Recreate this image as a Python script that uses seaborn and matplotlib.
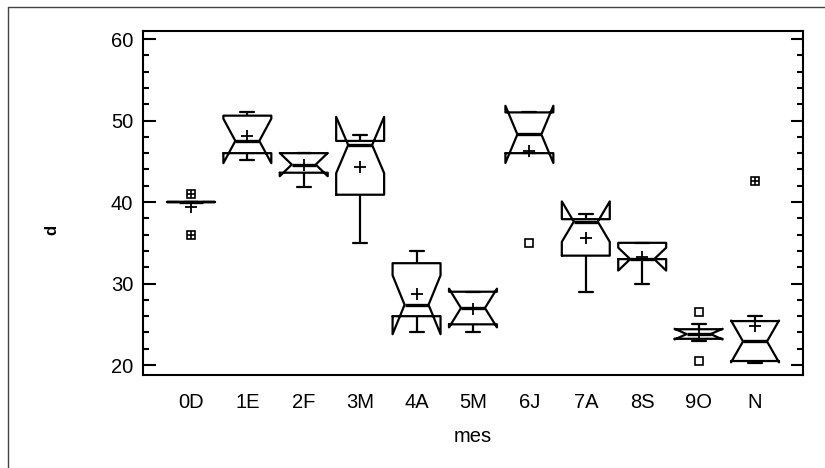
import numpy as np
import pandas as pd
import matplotlib
matplotlib.use("Agg")
import matplotlib.pyplot as plt
import seaborn as sns
from matplotlib.lines import Line2D
from matplotlib.ticker import MultipleLocator

# --- DATA ---
months = ["0D", "1E", "2F", "3M", "4A", "5M", "6J", "7A", "8S", "9O", "N"]

d_0D = [36.0, 40.0, 40.0, 40.0, 41.0]
d_1E = [45.1, 45.8, 46.2, 47.5, 50.2, 51.0, 51.1]
d_2F = [41.9, 43.4, 43.8, 44.6, 46.0, 46.0, 46.0]
d_3M = [35.0, 38.5, 40.9, 46.3, 47.0, 47.3, 47.5, 48.0, 48.2]
d_4A = [24.0, 26.0, 26.0, 27.0, 27.8, 32.5, 32.5, 34.0]
d_5M = [24.0, 24.6, 25.4, 27.0, 29.0, 29.0, 29.0]
d_6J = [35.0, 46.0, 48.3, 51.0, 51.0]
d_7A = [29.0, 33.2, 33.5, 37.4, 37.8, 37.9, 37.9, 38.5]
d_8S = [30.0, 33.0, 33.0, 35.0, 35.0]
d_9O = [20.5, 23.0, 23.3, 23.6, 24.0, 24.2, 25.0, 26.5]
d_N = [20.2, 20.3, 20.5, 21.5, 22.9, 23.8, 25.4, 26.0, 42.6]

values = [d_0D, d_1E, d_2F, d_3M, d_4A, d_5M, d_6J, d_7A, d_8S, d_9O, d_N]

df = pd.DataFrame({
    "mes": np.repeat(months, [len(v) for v in values]),
    "d": np.concatenate(values),
})

# --- STYLE ---
sns.set_style("ticks", {"axes.edgecolor": "black", "text.color": "black",
                        "xtick.color": "black", "ytick.color": "black",
                        "axes.labelcolor": "black"})
plt.rcParams["font.family"] = ["Liberation Sans", "DejaVu Sans"]

fig, ax = plt.subplots(figsize=(8.25, 4.68), dpi=100)
fig.subplots_adjust(left=0.1733, right=0.9733, top=0.934, bottom=0.199)

# notched box plot with means (+) and outside points (open squares)
sns.boxplot(
    data=df, x="mes", y="d", order=months, ax=ax,
    fill=False, color="black", width=0.85, linewidth=1.6,
    notch=True, showmeans=True, capwidths=0.25,
    meanprops=dict(marker="+", markeredgecolor="black", markersize=9, markeredgewidth=1.3),
    medianprops=dict(color="black", linewidth=2.4),
    flierprops=dict(marker="s", markerfacecolor="none", markeredgecolor="black",
                    markersize=6, markeredgewidth=1.2),
)

# far outside points (beyond 3 IQR) get a plus inside the square
far_x, far_y = [], []
for i, vals in enumerate(values):
    q1, q3 = np.percentile(vals, [25, 75])
    iqr = q3 - q1
    for v in vals:
        if v < q1 - 3 * iqr or v > q3 + 3 * iqr:
            far_x.append(i)
            far_y.append(v)
sns.scatterplot(x=far_x, y=far_y, marker="+", color="black", s=40, linewidth=1.2, ax=ax)

# --- AXES ---
ax.set_xlim(-0.85, 10.85)
ax.set_ylim(18.8, 61)
ax.yaxis.set_major_locator(MultipleLocator(10))
ax.yaxis.set_minor_locator(MultipleLocator(2))
ax.tick_params(axis="y", which="both", direction="in", left=True, right=True,
               width=1.5, labelsize=14.5, pad=7)
ax.tick_params(axis="y", which="major", length=9)
ax.tick_params(axis="y", which="minor", length=4.5)
ax.tick_params(axis="x", length=0, labelsize=14.5, pad=13)
for s in ax.spines.values():
    s.set_visible(True)
    s.set_linewidth(1.5)

ax.set_xlabel("mes", fontsize=14.5, labelpad=11)
ax.set_ylabel("d", fontsize=12, fontweight="bold")
ax.yaxis.set_label_coords(-0.126, 0.42)

# outer frame (top and left edges only)
fig.add_artist(Line2D([8 / 825, 1], [1 - 7 / 468] * 2, transform=fig.transFigure,
                      color="#444444", linewidth=1))
fig.add_artist(Line2D([8 / 825] * 2, [0, 1 - 7 / 468], transform=fig.transFigure,
                      color="#444444", linewidth=1))

fig.savefig("out.png", dpi=100)
